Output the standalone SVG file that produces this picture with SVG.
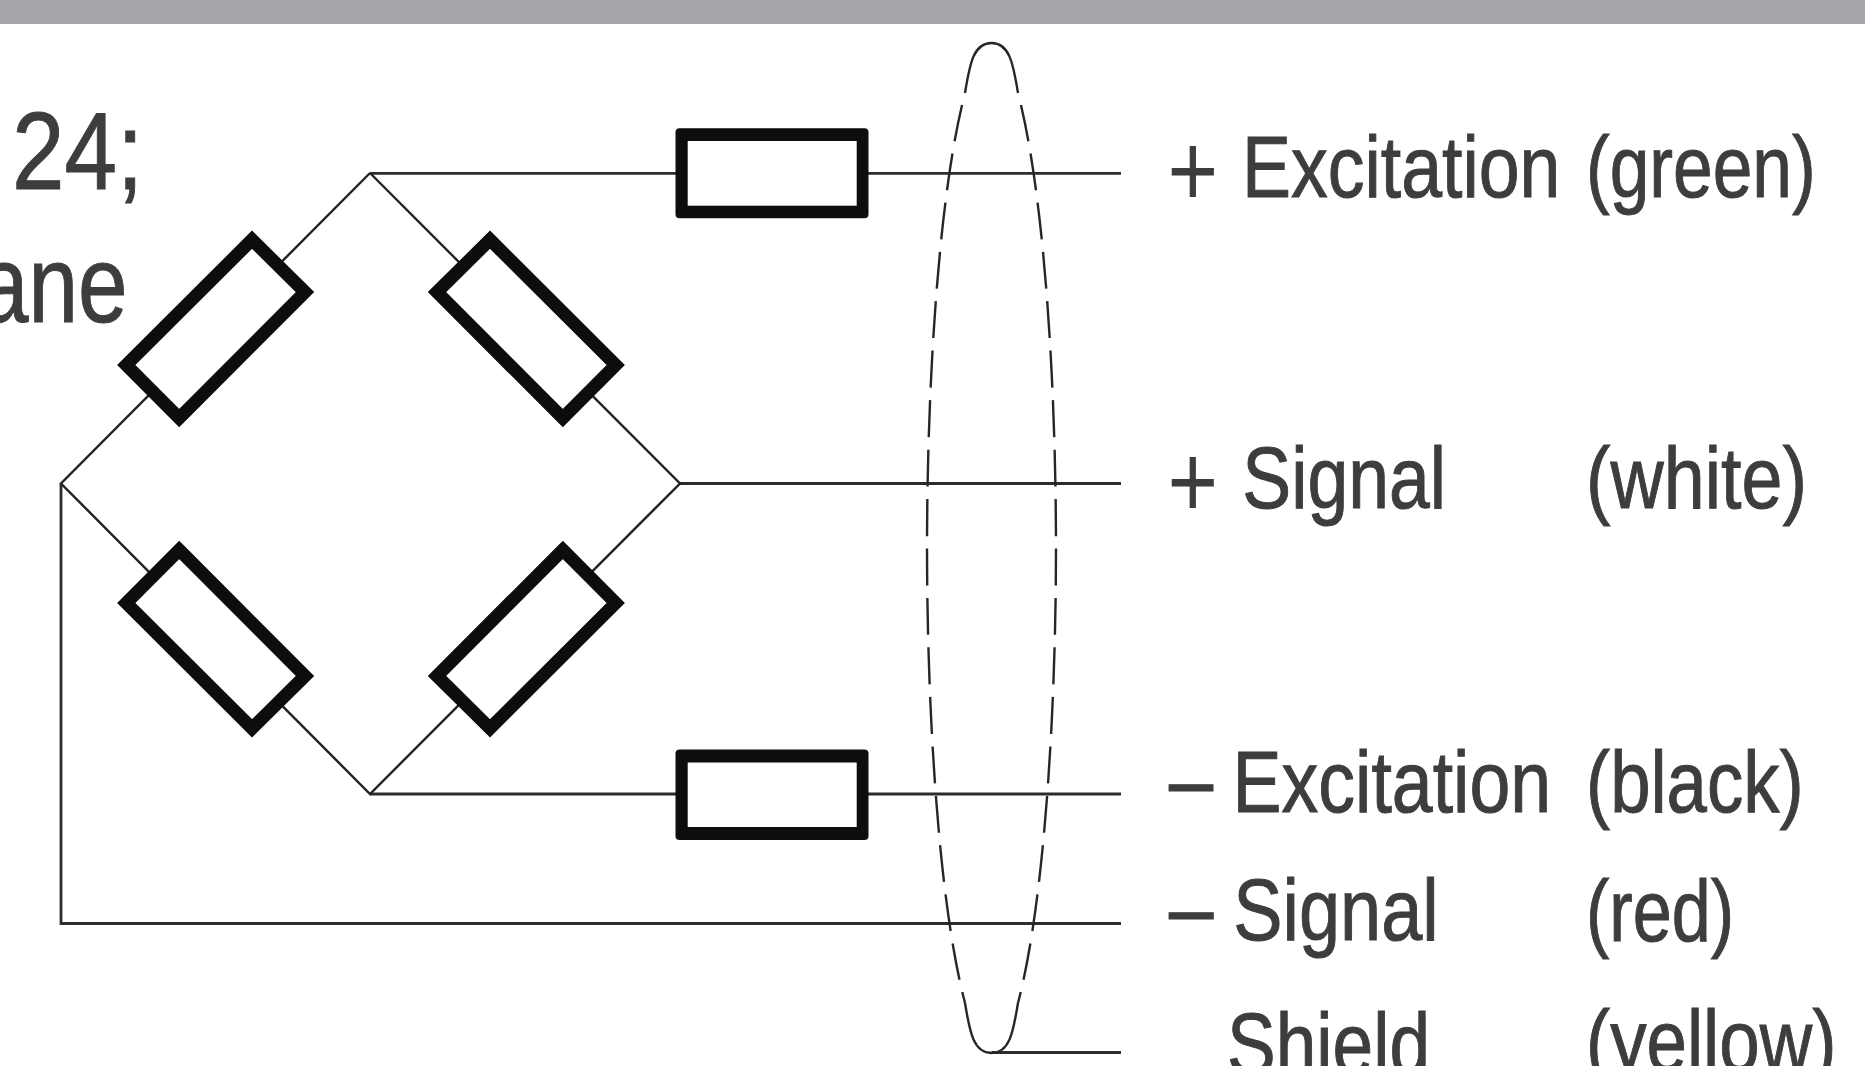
<svg xmlns="http://www.w3.org/2000/svg" width="1865" height="1066" viewBox="0 0 1865 1066">
<style>
.wire{fill:none;stroke:#2c2c2c;stroke-width:2.8}
.diag{fill:none;stroke:#222;stroke-width:2.4}
.res{fill:#fff;stroke:#0e0d0e;stroke-width:13;stroke-linejoin:miter}
.outer{fill:#0e0d0e}
.inner{fill:#fff}
.shield{fill:none;stroke:#262626;stroke-width:2.4}
.dash{stroke-dasharray:37 12.5;stroke-dashoffset:37}
text{font-family:"Liberation Sans",Arial,sans-serif;font-size:88px;fill:#3c3d3f;stroke:#3c3d3f;stroke-width:1}
.big{font-size:110px}
.plus{font-size:104px;stroke:none}
.minus{font-size:95px}
</style>
<rect id="background" width="1865" height="1066" fill="#fff"/>
<rect id="header-band" width="1865" height="24" fill="#a5a6aa"/>
<g id="side-text">
<text class="big" transform="translate(12,189) scale(.858,1)">24;</text>
<text class="big" transform="translate(-21,322) scale(.81,1)">ane</text>
</g>
<g id="connectors">
<path class="wire" d="M1121 173.300H370"/>
<path class="wire" d="M680 483.500H1121"/>
<path class="wire" d="M370 794H1121"/>
<path class="wire" d="M61 483.500V923.500H1121"/>
<path class="wire" d="M991.500 1052.500H1121"/>
<path class="diag" d="M370 173L680 483.500L370 794L61 483.500L370 173"/>
</g>
<g id="shield">
<path class="shield" d="M965 93C970 62 974 43 991.500 43C1009 43 1013 62 1018 93"/>
<path class="shield dash" d="M1018 93C1046 200 1056 400 1056 548C1056 696 1046 896 1018 1003"/>
<path class="shield dash" d="M965 93C937 200 927 400 927 548C927 696 937 896 965 1003"/>
<path class="shield" d="M965 1003C970 1034 974 1053 991.500 1053C1009 1053 1013 1034 1018 1003"/>
</g>
<g id="R-top"><rect class="outer" x="675.500" y="128.300" width="193" height="90" rx="4"/><rect class="inner" x="687.700" y="141" width="169" height="64.700"/></g>
<g id="R-bottom"><rect class="outer" x="675.500" y="749.500" width="193" height="90.500" rx="4"/><rect class="inner" x="687.700" y="762.500" width="169" height="64.500"/></g>
<g id="R-bridge-top-left"><path class="res" d="M252 239.700L305 292L179.200 418.100L126.300 365Z"/></g>
<g id="R-bridge-top-right"><path class="res" d="M490 239.700L615.700 365L562.800 418.100L437 292Z"/></g>
<g id="R-bridge-bottom-left"><path class="res" d="M179.200 549.900L305 676L252 728.300L126.300 603Z"/></g>
<g id="R-bridge-bottom-right"><path class="res" d="M562.800 549.900L615.700 603L490 728.300L437 676Z"/></g>
<g id="label-excitation-plus">
<text transform="translate(1167.500,197) scale(.835,1)"><tspan class="plus" dy="9">+ </tspan><tspan x="89.200" dy="-9">Excitation</tspan></text>
<text transform="translate(1586,197) scale(.81,1)">(green)</text>
</g>
<g id="label-signal-plus">
<text transform="translate(1167.500,508) scale(.833,1)"><tspan class="plus" dy="9">+ </tspan><tspan x="89.800" dy="-9">Signal</tspan></text>
<text transform="translate(1586,508) scale(.837,1)">(white)</text>
</g>
<g id="label-excitation-minus">
<text transform="translate(1169,811.500) scale(.835,1)"><tspan class="minus">– </tspan><tspan x="76.200">Excitation</tspan></text>
<text transform="translate(1586,812) scale(.824,1)">(black)</text>
</g>
<g id="label-signal-minus">
<text transform="translate(1169,939.500) scale(.84,1)"><tspan class="minus">– </tspan><tspan x="76.500">Signal</tspan></text>
<text transform="translate(1586,941) scale(.797,1)">(red)</text>
</g>
<g id="label-shield">
<text transform="translate(1227,1074) scale(.83,1)">Shield</text>
<text transform="translate(1586,1071) scale(.826,1)">(yellow)</text>
</g>
</svg>
